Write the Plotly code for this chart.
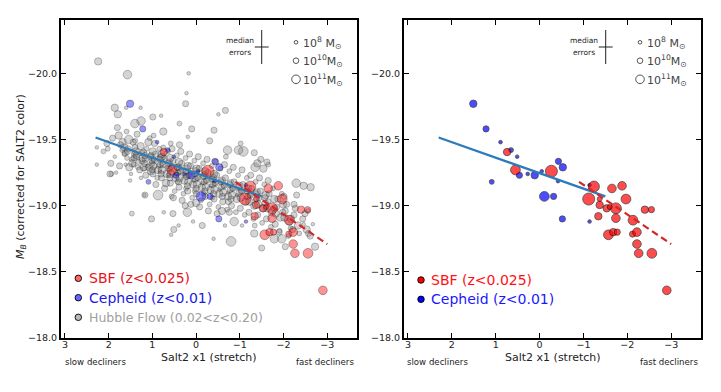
import numpy as np
import plotly.graph_objects as go

# ---------------- data ----------------
# SBF calibrators (z<0.025): SALT2 x1, M_B, log10 host mass
sbf_x1 = [0.74, 0.55, -0.27, -1.24, -1.65, -1.88, -1.12, -1.37, -1.97, -1.37,
          -1.53, -1.74, -1.60, -2.40, -2.55, -1.34, -1.74, -2.13, -1.57, -1.68,
          -1.77, -2.12, -2.22, -2.22, -2.26, -2.56, -2.90]
sbf_mb = [-19.405, -19.27, -19.26, -19.145, -19.13, -19.15, -19.05, -19.05, -19.05, -19.005,
          -18.98, -18.98, -18.99, -18.97, -18.97, -18.92, -18.905, -18.89, -18.78, -18.80,
          -18.80, -18.785, -18.80, -18.71, -18.64, -18.64, -18.36]
sbf_logm = [10.6, 11.2, 11.6, 11.4, 11.0, 11.0, 11.6, 9.3, 11.2, 10.6,
            10.6, 11.4, 9.3, 10.6, 10.2, 10.6, 11.0, 11.2, 11.2, 10.6,
            10.2, 10.2, 11.0, 11.0, 11.0, 11.2, 11.0]

# Cepheid calibrators (z<0.01)
ceph_x1 = [1.51, 1.22, 0.89, 0.65, 0.51, -0.43, -0.53, 0.46, 0.27, 0.11,
           -0.05, 1.09, -0.42, -0.11, -0.32, -0.52, -1.14, -1.14]
ceph_mb = [-19.77, -19.58, -19.48, -19.42, -19.37, -19.335, -19.29, -19.23, -19.24, -19.23,
           -19.26, -19.18, -19.185, -19.07, -19.07, -18.90, -18.88, -19.155]
ceph_logm = [10.6, 10.2, 8.0, 9.3, 8.0, 10.2, 10.6, 10.2, 8.0, 10.6,
             8.0, 9.3, 8.0, 11.2, 10.2, 10.2, 8.0, 8.0]

# Hubble flow (0.02<z<0.20)
hf_x1 = [
    # scattered points
    2.24, 1.57, 0.17, 0.22, 0.24, 1.86, 1.79, 1.27, 1.60, 0.99,
    0.80, 1.26, 1.40, 0.38, 0.10, 0.19, 2.27, 2.27, 2.04, 1.75,
    1.94, 1.68, 1.97, 1.83, 1.51, 1.47, 1.02, 1.18, 0.87, 0.74,
    0.53, 0.40, 0.51, 0.57, 0.20, 0.25, 0.00, 0.07, -0.14, -0.80,
    -0.40, -1.50, -2.04, -2.29, -2.46, -2.62, -2.30, -2.72, -2.57, -2.67,
    -0.87, -1.05, -0.76, -0.66, -1.33, -1.79, -1.96, -1.90, -2.24, -2.49,
    -2.46, -2.17, -0.67, -0.51, -0.41, -0.31, -0.72, -1.02, -1.08, -1.33,
    -1.48, -1.65, -1.35, -1.54, 0.75, -0.97, -1.40, -1.62, 1.17, 0.56,
    -0.59, -0.74,
    # main band
    2.02, 1.91, 1.86, 2.12, 1.95,
    1.73, 1.64, 1.77, 1.61, 1.69, 1.80,
    1.56, 1.47, 1.53, 1.44, 1.59, 1.49, 1.41, 1.46, 1.54,
    1.36, 1.27, 1.33, 1.24, 1.39, 1.29, 1.21, 1.35, 1.26, 1.32,
    1.16, 1.07, 1.13, 1.04, 1.19, 1.09, 1.01, 1.15, 1.06, 1.12, 1.03,
    0.96, 0.87, 0.93, 0.84, 0.99, 0.89, 0.81, 0.95, 0.86, 0.92, 0.83, 0.97,
    0.76, 0.67, 0.73, 0.64, 0.79, 0.69, 0.61, 0.75, 0.66, 0.72, 0.63, 0.78,
    0.56, 0.47, 0.53, 0.44, 0.59, 0.49, 0.41, 0.55, 0.46, 0.52, 0.43, 0.58,
    0.36, 0.27, 0.33, 0.24, 0.39, 0.29, 0.21, 0.35, 0.26, 0.32, 0.23, 0.38,
    0.16, 0.07, 0.13, 0.04, 0.19, 0.09, 0.01, 0.15, 0.06, 0.12, 0.03,
    -0.04, -0.13, -0.07, -0.16, -0.01, -0.11, -0.19, -0.05, -0.14, -0.08, -0.17,
    -0.24, -0.33, -0.27, -0.36, -0.21, -0.31, -0.39, -0.25, -0.34, -0.28, -0.37,
    -0.44, -0.53, -0.47, -0.56, -0.41, -0.51, -0.59, -0.45, -0.54, -0.48,
    -0.64, -0.73, -0.67, -0.76, -0.61, -0.71, -0.79, -0.65, -0.74, -0.68,
    -0.84, -0.93, -0.87, -0.96, -0.81, -0.91, -0.99, -0.85, -0.94,
    -1.04, -1.13, -1.07, -1.16, -1.01, -1.11, -1.19, -1.05, -1.14,
    -1.24, -1.33, -1.27, -1.36, -1.21, -1.31, -1.39, -1.25, -1.34,
    -1.44, -1.53, -1.47, -1.56, -1.41, -1.51, -1.59, -1.45,
    -1.64, -1.73, -1.67, -1.76, -1.61, -1.71, -1.79, -1.65,
    -1.84, -1.93, -1.87, -1.96, -1.81, -1.91, -1.99,
    -2.04, -2.13, -2.07, -2.16, -2.01, -2.11,
    -2.24, -2.33, -2.27, -2.36, -2.21,
    -2.44, -2.53, -2.56, -2.61,
    # dense core
    1.62, 1.58, 1.64, 1.57,
    1.42, 1.38, 1.43, 1.37, 1.40,
    1.22, 1.18, 1.23, 1.17, 1.20,
    1.01, 0.98, 1.03, 0.97, 1.00, 0.99,
    0.82, 0.78, 0.83, 0.77, 0.80, 0.79,
    0.62, 0.58, 0.63, 0.57, 0.60, 0.59,
    0.42, 0.38, 0.43, 0.37, 0.40, 0.39,
    0.22, 0.18, 0.23, 0.17, 0.20, 0.19,
    0.02, -0.02, 0.03, -0.03, 0.00, -0.01,
    -0.18, -0.22, -0.17, -0.23, -0.20, -0.21,
    -0.38, -0.42, -0.37, -0.43, -0.40, -0.41,
    -0.58, -0.62, -0.57, -0.63, -0.60,
    -0.78, -0.82, -0.77, -0.83, -0.80,
    -0.98, -1.02, -0.97, -1.03,
    -1.18, -1.22, -1.17, -1.23,
    -1.38, -1.42, -1.37,
    -1.58, -1.62, -1.57,
    -1.78, -1.82,
    -1.98, -2.02,
]
hf_mb = [
    -20.09, -19.99, -20.00, -19.85, -19.77, -19.74, -19.69, -19.74, -19.74, -19.67,
    -19.68, -19.64, -19.62, -19.62, -19.58, -19.52, -19.44, -19.31, -19.47, -19.30,
    -19.24, -19.48, -19.24, -19.25, -19.19, -18.94, -18.90, -19.08, -19.08, -18.95,
    -18.94, -18.85, -18.82, -18.78, -18.95, -19.00, -19.02, -18.88, -18.85, -18.73,
    -18.75, -18.68, -18.69, -19.17, -19.15, -19.14, -19.08, -18.69, -18.79, -18.86,
    -18.88, -18.85, -18.95, -18.85, -18.79, -18.75, -18.75, -18.80, -19.01, -18.94,
    -18.86, -18.90, -19.72, -19.69, -19.57, -19.49, -19.42, -19.47, -19.41, -19.40,
    -19.35, -19.31, -19.29, -19.28, -19.56, -19.42, -19.32, -19.33, -19.08, -19.07,
    -18.96, -19.03,
    -19.43, -19.51, -19.37, -19.41, -19.32,
    -19.46, -19.39, -19.53, -19.31, -19.42, -19.59,
    -19.43, -19.35, -19.29, -19.48, -19.56, -19.24, -19.39, -19.32, -19.50,
    -19.37, -19.45, -19.29, -19.34, -19.49, -19.27, -19.40, -19.54, -19.21, -19.33,
    -19.35, -19.29, -19.43, -19.37, -19.28, -19.48, -19.32, -19.23, -19.51, -19.30, -19.26,
    -19.34, -19.27, -19.39, -19.43, -19.24, -19.21, -19.36, -19.47, -19.30, -19.16, -19.26, -19.53,
    -19.31, -19.24, -19.36, -19.41, -19.21, -19.17, -19.33, -19.44, -19.29, -19.13, -19.23, -19.37,
    -19.28, -19.21, -19.34, -19.38, -19.17, -19.11, -19.29, -19.43, -19.24, -19.06, -19.18, -19.47,
    -19.26, -19.19, -19.32, -19.36, -19.14, -19.09, -19.28, -19.41, -19.23, -19.04, -19.13, -19.46,
    -19.23, -19.16, -19.30, -19.34, -19.11, -19.06, -19.26, -19.39, -19.19, -19.01, -19.11,
    -19.21, -19.14, -19.28, -19.32, -19.09, -19.04, -19.23, -19.37, -19.17, -18.99, -19.09,
    -19.19, -19.12, -19.25, -19.30, -19.07, -19.01, -19.21, -19.35, -19.15, -18.96, -19.06,
    -19.17, -19.09, -19.23, -19.28, -19.05, -18.99, -19.19, -19.33, -19.12, -18.94,
    -19.15, -19.07, -19.21, -19.26, -19.03, -18.97, -19.17, -19.31, -19.10, -19.37,
    -19.13, -19.05, -19.18, -19.23, -19.00, -18.95, -19.15, -19.29, -19.08,
    -19.11, -19.03, -19.16, -19.21, -18.98, -18.93, -19.13, -19.27, -19.06,
    -19.08, -19.00, -19.13, -19.18, -18.95, -18.90, -19.10, -19.23, -18.85,
    -19.06, -18.98, -19.11, -19.16, -18.93, -18.87, -19.08, -19.21,
    -19.03, -18.95, -19.09, -19.13, -18.90, -18.84, -19.05, -19.19,
    -18.99, -18.91, -19.05, -19.09, -18.86, -18.81, -19.01,
    -18.96, -18.88, -19.01, -18.83, -19.07, -18.77,
    -18.93, -18.85, -18.98, -18.79, -18.82,
    -18.90, -18.82, -18.96, -18.77,
    -19.40, -19.36, -19.44, -19.41,
    -19.36, -19.41, -19.31, -19.38, -19.44,
    -19.36, -19.32, -19.40, -19.38, -19.29,
    -19.34, -19.30, -19.38, -19.35, -19.27, -19.41,
    -19.31, -19.27, -19.35, -19.32, -19.24, -19.39,
    -19.28, -19.24, -19.32, -19.29, -19.21, -19.36,
    -19.25, -19.21, -19.29, -19.26, -19.18, -19.33,
    -19.22, -19.18, -19.26, -19.23, -19.15, -19.30,
    -19.20, -19.16, -19.24, -19.21, -19.13, -19.28,
    -19.18, -19.14, -19.22, -19.19, -19.11, -19.26,
    -19.16, -19.12, -19.20, -19.17, -19.09, -19.24,
    -19.14, -19.10, -19.18, -19.15, -19.07,
    -19.12, -19.08, -19.16, -19.13, -19.05,
    -19.10, -19.06, -19.14, -19.11,
    -19.07, -19.03, -19.11, -19.08,
    -19.05, -19.01, -19.09,
    -19.02, -18.98, -19.06,
    -18.98, -18.94,
    -18.95, -18.91,
]
hf_logm = [
    10.6, 11.0, 8.0, 8.0, 10.2, 10.6, 10.6, 8.0, 8.0, 10.2,
    8.0, 11.0, 11.0, 9.3, 10.2, 8.0, 8.0, 8.0, 10.2, 10.2,
    9.3, 10.6, 10.2, 8.0, 8.0, 9.3, 10.2, 8.0, 11.2, 8.0,
    10.2, 8.0, 10.2, 8.0, 11.0, 10.2, 10.6, 8.0, 10.2, 11.2,
    8.0, 10.2, 10.2, 11.0, 10.6, 10.6, 10.2, 10.6, 10.2, 8.0,
    11.0, 8.0, 10.2, 8.0, 10.6, 11.0, 11.0, 10.2, 10.2, 10.2,
    8.0, 10.6, 10.2, 8.0, 10.2, 10.2, 11.0, 9.3, 11.2, 10.2,
    10.2, 9.3, 11.0, 10.6, 10.6, 11.0, 10.6, 10.2, 10.2, 9.3,
    10.6, 10.2,
    9.3, 10.2, 8.0, 9.3, 10.2,
    10.2, 9.3, 10.6, 8.0, 9.3, 10.2,
    10.2, 9.3, 10.6, 10.2, 9.3, 8.0, 10.2, 10.6, 11.0,
    10.2, 10.6, 9.3, 10.2, 9.3, 10.2, 10.6, 10.2, 8.0, 9.3,
    10.2, 10.6, 9.3, 10.2, 9.3, 10.6, 10.2, 10.2, 9.3, 8.0, 10.6,
    10.2, 10.6, 10.2, 9.3, 10.2, 9.3, 10.6, 10.2, 9.3, 10.2, 8.0, 9.3,
    10.2, 10.6, 10.2, 9.3, 10.2, 10.6, 10.2, 9.3, 8.0, 10.2, 9.3, 10.6,
    10.2, 10.6, 10.2, 9.3, 10.2, 9.3, 10.6, 10.2, 8.0, 10.2, 9.3, 9.3,
    10.2, 10.6, 10.2, 9.3, 10.2, 9.3, 10.6, 10.2, 8.0, 10.2, 9.3, 10.2,
    10.2, 10.6, 10.2, 9.3, 10.2, 9.3, 10.6, 10.2, 8.0, 10.2, 9.3,
    10.2, 10.6, 10.2, 9.3, 10.2, 9.3, 10.6, 10.2, 8.0, 10.2, 9.3,
    10.2, 10.6, 10.2, 9.3, 10.2, 9.3, 10.6, 10.2, 8.0, 10.2, 9.3,
    10.2, 10.6, 10.2, 9.3, 10.2, 9.3, 10.6, 10.2, 8.0, 10.2,
    10.2, 10.6, 10.2, 9.3, 10.2, 9.3, 10.6, 10.2, 8.0, 9.3,
    10.2, 10.6, 10.2, 9.3, 10.2, 9.3, 10.6, 10.2, 8.0,
    10.2, 10.6, 10.2, 9.3, 10.2, 9.3, 10.6, 10.2, 8.0,
    10.2, 10.6, 10.2, 9.3, 10.2, 9.3, 10.6, 10.2, 9.3,
    10.2, 10.6, 10.2, 9.3, 10.2, 9.3, 10.6, 10.2,
    10.2, 10.6, 10.2, 9.3, 10.2, 9.3, 10.6, 10.2,
    10.2, 10.6, 10.2, 9.3, 10.2, 9.3, 10.6,
    10.2, 10.6, 10.2, 9.3, 10.2, 9.3,
    10.2, 10.6, 10.2, 9.3, 10.2,
    10.2, 10.6, 9.3, 10.2,
    10.2, 9.3, 10.6, 10.2,
    10.2, 10.6, 9.3, 10.2, 10.2,
    10.6, 10.2, 9.3, 10.2, 10.6,
    10.2, 10.6, 10.2, 9.3, 10.2, 10.6,
    10.2, 10.6, 10.2, 9.3, 10.2, 10.6,
    10.2, 10.6, 10.2, 9.3, 10.2, 10.6,
    10.2, 10.6, 10.2, 9.3, 10.2, 10.6,
    10.2, 10.6, 10.2, 9.3, 10.2, 10.6,
    10.2, 10.6, 10.2, 9.3, 10.2, 10.6,
    10.2, 10.6, 10.2, 9.3, 10.2, 10.6,
    10.2, 10.6, 10.2, 9.3, 10.2, 10.6,
    10.2, 10.6, 10.2, 9.3, 10.2,
    10.2, 10.6, 10.2, 9.3, 10.2,
    10.2, 10.6, 10.2, 9.3,
    10.2, 10.6, 10.2, 9.3,
    10.2, 10.6, 10.2,
    10.2, 10.6, 10.2,
    10.2, 10.6,
    10.2, 10.6,
]
assert len(hf_x1) == len(hf_mb) == len(hf_logm)

# fitted trends
cal_fit_x1 = [2.3, -1.5]
cal_fit_mb = [-19.515, -19.07]
fast_fit_x1 = [-0.9, -3.0]
fast_fit_mb = [-19.18, -18.71]

x_ticks = [3, 2, 1, 0, -1, -2, -3]
y_ticks = [-20.0, -19.5, -19.0, -18.5, -18.0]
key_logm = [8, 10, 11]
key_labels = ["10<sup>8</sup> M<sub>⊙</sub>", "10<sup>10</sup>M<sub>⊙</sub>", "10<sup>11</sup>M<sub>⊙</sub>"]

# ---------------- figure ----------------
W, H = 721, 392
FONT = "DejaVu Sans"


def msize(logm):
    return np.interp(np.asarray(logm, dtype=float), [8, 10, 11, 11.6], [3.6, 5.6, 8.6, 12])


def uminus(s):
    return s.replace("-", "\u2212")


def px(x):  # pixel -> paper
    return x / W


def py(y):
    return 1 - y / H


panels = [
    dict(xa="x", ya="y", left=61, right=357, alpha=0.6, hubble=True),
    dict(xa="x2", ya="y2", left=404, right=701, alpha=1.0, hubble=False),
]
top, bottom = 20, 338

fig = go.Figure()
shapes, annos = [], []

for p in panels:
    a = p["alpha"]
    if p["hubble"]:
        fig.add_trace(go.Scatter(
            x=hf_x1, y=hf_mb, mode="markers", xaxis=p["xa"], yaxis=p["ya"],
            marker=dict(size=msize(hf_logm), color="rgba(120,120,120,0.45)",
                        line=dict(color="rgba(0,0,0,0.5)", width=0.7)),
            hoverinfo="skip"))
    fig.add_trace(go.Scatter(
        x=ceph_x1, y=ceph_mb, mode="markers", xaxis=p["xa"], yaxis=p["ya"],
        marker=dict(size=msize(ceph_logm), color=f"rgba(0,0,255,{a})",
                    line=dict(color=f"rgba(0,0,0,{a})", width=0.8))))
    fig.add_trace(go.Scatter(
        x=sbf_x1, y=sbf_mb, mode="markers", xaxis=p["xa"], yaxis=p["ya"],
        marker=dict(size=msize(sbf_logm), color=f"rgba(255,0,0,{a})",
                    line=dict(color=f"rgba(0,0,0,{a})", width=0.8))))
    fig.add_trace(go.Scatter(
        x=cal_fit_x1, y=cal_fit_mb, mode="lines", xaxis=p["xa"], yaxis=p["ya"],
        line=dict(color="#2b7bba", width=2.2)))
    fig.add_trace(go.Scatter(
        x=fast_fit_x1, y=fast_fit_mb, mode="lines", xaxis=p["xa"], yaxis=p["ya"],
        line=dict(color="#d62728", width=2.2, dash="7px,4px")))

    L, R = p["left"], p["right"]
    # median error cross
    cx, cy = R - 95.3, 47
    shapes.append(dict(type="line", xref="paper", yref="paper", x0=px(cx), x1=px(cx),
                       y0=py(30), y1=py(64), line=dict(color="#222", width=1)))
    shapes.append(dict(type="line", xref="paper", yref="paper", x0=px(cx - 7), x1=px(cx + 7),
                       y0=py(cy), y1=py(cy), line=dict(color="#222", width=1)))
    annos.append(dict(text="median", x=px(cx - 22), y=py(41), xanchor="center", yanchor="middle",
                      font=dict(size=7.5, color="#222")))
    annos.append(dict(text="errors", x=px(cx - 22), y=py(52), xanchor="center", yanchor="middle",
                      font=dict(size=7.5, color="#222")))
    # host-mass size key
    for lm, lab, yy in zip(key_logm, key_labels, [42.3, 60.7, 79.3]):
        d = float(msize(lm))
        kx = R - 61
        shapes.append(dict(type="circle", xref="paper", yref="paper",
                           x0=px(kx - d / 2), x1=px(kx + d / 2), y0=py(yy + d / 2), y1=py(yy - d / 2),
                           fillcolor="white", line=dict(color="#444", width=0.9)))
        annos.append(dict(text=lab, x=px(kx + 5), y=py(yy + 0.5), xanchor="left", yanchor="middle",
                          font=dict(size=11, color="#444")))

    # marker legend
    if p["hubble"]:
        rows = [("SBF (z<0.025)", "#e8141a", f"rgba(255,0,0,{a})", 14),
                ("Cepheid (z<0.01)", "#1a1ae6", f"rgba(0,0,255,{a})", 14),
                ("Hubble Flow (0.02<z<0.20)", "#a0a0a0", "rgba(128,128,128,0.55)", 12.5)]
        ys = [278.3, 297.7, 317.3]
        mx, tx = 78.3, 86.5
    else:
        rows = [("SBF (z<0.025)", "#ff1010", "red", 14),
                ("Cepheid (z<0.01)", "#1a1aff", "blue", 14)]
        ys = [280, 299.3]
        mx, tx = 421, 429.5
    for (lab, tc, fc, fs), yy in zip(rows, ys):
        d = 6.5
        shapes.append(dict(type="circle", xref="paper", yref="paper",
                           x0=px(mx - d / 2), x1=px(mx + d / 2), y0=py(yy + d / 2), y1=py(yy - d / 2),
                           fillcolor=fc, line=dict(color="black", width=0.9)))
        annos.append(dict(text=lab, x=px(tx), y=py(yy), xanchor="left", yanchor="middle",
                          font=dict(size=fs, color=tc)))

    mid = (L + R) / 2
    annos.append(dict(text="Salt2 x1 (stretch)", x=px(mid), y=py(357), xanchor="center",
                      yanchor="middle", font=dict(size=11, color="#222")))
    annos.append(dict(text="slow decliners", x=px(L + 34), y=py(362), xanchor="center",
                      yanchor="middle", font=dict(size=8.6, color="#222")))
    annos.append(dict(text="fast decliners", x=px(R - 32), y=py(362), xanchor="center",
                      yanchor="middle", font=dict(size=8.6, color="#222")))

annos.append(dict(text="<i>M</i><sub><i>B</i></sub> (corrected for SALT2 color)", x=px(21), y=py(177),
                  xanchor="center", yanchor="middle", textangle=-90, font=dict(size=11, color="#222")))

for an in annos:
    an.update(xref="paper", yref="paper", showarrow=False)
    an["font"]["family"] = FONT

axis = dict(showline=True, linewidth=2, linecolor="black", mirror="ticks", ticks="inside",
            ticklen=5, tickwidth=1, tickcolor="black", showgrid=False, zeroline=False,
            automargin=False, tickfont=dict(size=9.5, color="#222", family=FONT))
xaxis = dict(axis, range=[3.09, -3.68], tickvals=x_ticks, ticklabelstandoff=-3,
             ticktext=[uminus(str(t)) for t in x_ticks])
yaxis = dict(axis, range=[-18.0, -20.403], tickvals=y_ticks,
             ticktext=[uminus(f"{t:.1f}") for t in y_ticks])

fig.update_layout(
    width=W, height=H, margin=dict(l=0, r=0, t=0, b=0),
    paper_bgcolor="white", plot_bgcolor="white", showlegend=False,
    font=dict(family=FONT, color="#222"),
    xaxis=dict(xaxis, domain=[px(61), px(357)], anchor="y"),
    yaxis=dict(yaxis, domain=[py(bottom), py(top)], anchor="x"),
    xaxis2=dict(xaxis, domain=[px(404), px(701)], anchor="y2"),
    yaxis2=dict(yaxis, domain=[py(bottom), py(top)], anchor="x2"),
    shapes=shapes, annotations=annos,
)

fig.write_html("out.html", config={"displayModeBar": False},
               post_script="document.body.style.margin='0';")
